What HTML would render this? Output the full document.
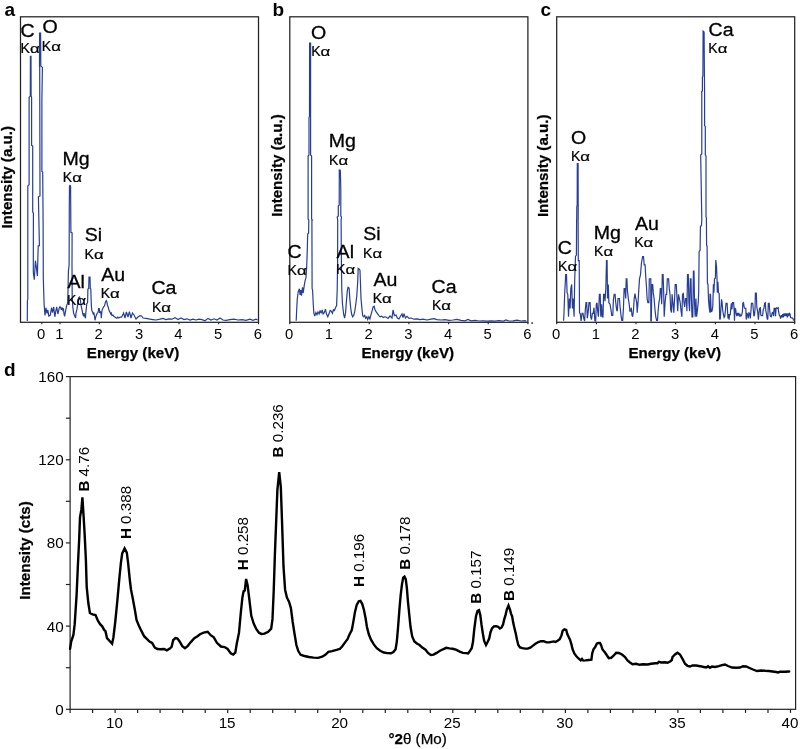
<!DOCTYPE html>
<html><head><meta charset="utf-8"><title>EDS spectra and XRD pattern</title>
<style>
html,body{margin:0;padding:0;background:#fff}
svg{display:block}
text{font-family:"Liberation Sans",sans-serif;fill:#000}
.t{font-size:15.2px}
.t2{font-size:14.8px}
.pl{font-size:19px;font-weight:bold}
.bt{font-size:15.15px;font-weight:bold;stroke:#000;stroke-width:0.25px}
.reg{font-weight:normal}
.el{font-size:19px;stroke:#000;stroke-width:0.3px}
.ka{font-size:13.8px;stroke:#000;stroke-width:0.2px}
.al{font-size:12.4px}
.pk{font-size:15.2px}
.b{font-weight:bold}
</style></head><body>
<svg width="800" height="749" viewBox="0 0 800 749">
<rect width="800" height="749" fill="#fff"/>
<rect x="20.5" y="16.8" width="238.0" height="305.5" fill="none" stroke="#222" stroke-width="1.25"/>
<rect x="289.8" y="16.8" width="238.1" height="305.5" fill="none" stroke="#222" stroke-width="1.25"/>
<rect x="556.7" y="16.8" width="238.0" height="305.5" fill="none" stroke="#222" stroke-width="1.25"/>
<line x1="41.8" y1="322" x2="41.8" y2="324.2" stroke="#222" stroke-width="1.1"/>
<text x="41.2" y="339.4" class="t2" text-anchor="middle">0</text>
<line x1="60.0" y1="322" x2="60.0" y2="324.2" stroke="#222" stroke-width="1.1"/>
<text x="59.4" y="339.4" class="t2" text-anchor="middle">1</text>
<line x1="99.3" y1="322" x2="99.3" y2="324.2" stroke="#222" stroke-width="1.1"/>
<text x="98.7" y="339.4" class="t2" text-anchor="middle">2</text>
<line x1="139.6" y1="322" x2="139.6" y2="324.2" stroke="#222" stroke-width="1.1"/>
<text x="139.0" y="339.4" class="t2" text-anchor="middle">3</text>
<line x1="179.0" y1="322" x2="179.0" y2="324.2" stroke="#222" stroke-width="1.1"/>
<text x="178.4" y="339.4" class="t2" text-anchor="middle">4</text>
<line x1="218.7" y1="322" x2="218.7" y2="324.2" stroke="#222" stroke-width="1.1"/>
<text x="218.1" y="339.4" class="t2" text-anchor="middle">5</text>
<line x1="258.5" y1="322" x2="258.5" y2="324.2" stroke="#222" stroke-width="1.1"/>
<text x="257.9" y="339.4" class="t2" text-anchor="middle">6</text>
<line x1="289.8" y1="322" x2="289.8" y2="324.2" stroke="#222" stroke-width="1.1"/>
<text x="289.2" y="339.4" class="t2" text-anchor="middle">0</text>
<line x1="329.5" y1="322" x2="329.5" y2="324.2" stroke="#222" stroke-width="1.1"/>
<text x="328.9" y="339.4" class="t2" text-anchor="middle">1</text>
<line x1="369.2" y1="322" x2="369.2" y2="324.2" stroke="#222" stroke-width="1.1"/>
<text x="368.6" y="339.4" class="t2" text-anchor="middle">2</text>
<line x1="408.9" y1="322" x2="408.9" y2="324.2" stroke="#222" stroke-width="1.1"/>
<text x="408.3" y="339.4" class="t2" text-anchor="middle">3</text>
<line x1="448.6" y1="322" x2="448.6" y2="324.2" stroke="#222" stroke-width="1.1"/>
<text x="448.0" y="339.4" class="t2" text-anchor="middle">4</text>
<line x1="488.2" y1="322" x2="488.2" y2="324.2" stroke="#222" stroke-width="1.1"/>
<text x="487.6" y="339.4" class="t2" text-anchor="middle">5</text>
<line x1="527.9" y1="322" x2="527.9" y2="324.2" stroke="#222" stroke-width="1.1"/>
<text x="527.3" y="339.4" class="t2" text-anchor="middle">6</text>
<line x1="556.7" y1="322" x2="556.7" y2="324.2" stroke="#222" stroke-width="1.1"/>
<text x="556.1" y="339.4" class="t2" text-anchor="middle">0</text>
<line x1="596.4" y1="322" x2="596.4" y2="324.2" stroke="#222" stroke-width="1.1"/>
<text x="595.8" y="339.4" class="t2" text-anchor="middle">1</text>
<line x1="636.0" y1="322" x2="636.0" y2="324.2" stroke="#222" stroke-width="1.1"/>
<text x="635.4" y="339.4" class="t2" text-anchor="middle">2</text>
<line x1="675.7" y1="322" x2="675.7" y2="324.2" stroke="#222" stroke-width="1.1"/>
<text x="675.1" y="339.4" class="t2" text-anchor="middle">3</text>
<line x1="715.4" y1="322" x2="715.4" y2="324.2" stroke="#222" stroke-width="1.1"/>
<text x="714.8" y="339.4" class="t2" text-anchor="middle">4</text>
<line x1="755.0" y1="322" x2="755.0" y2="324.2" stroke="#222" stroke-width="1.1"/>
<text x="754.4" y="339.4" class="t2" text-anchor="middle">5</text>
<line x1="794.7" y1="322" x2="794.7" y2="324.2" stroke="#222" stroke-width="1.1"/>
<text x="794.1" y="339.4" class="t2" text-anchor="middle">6</text>
<rect x="531.3" y="322.3" width="1.6" height="1.6" fill="#333"/>
<polyline points="27.3,321.0 27.4,301.0 27.8,299.0 27.8,186.0 29.1,184.8 29.1,97.4 30.3,96.0 30.4,56.3 31.0,56.3 31.1,96.0 31.6,97.4 31.6,145.4 32.7,146.0 32.7,212.0 33.4,213.0 33.3,271.9 34.3,279.6 35.4,260.7 36.4,267.7 37.4,276.1 38.2,245.9 39.4,245.7 38.4,196.8 40.0,196.0 39.7,67.4 39.5,66.0 39.6,33.0 40.6,33.0 40.8,66.0 42.4,67.4 41.9,100.0 41.9,171.4 42.7,172.0 43.1,221.4 43.3,278.2 44.1,304.2 45.0,315.4 45.9,307.7 46.9,313.3 47.8,309.8 48.8,316.1 50.2,315.4 51.6,307.7 52.5,312.6 53.7,307.0 54.8,316.8 55.8,311.2 56.7,307.0 57.9,314.0 59.3,307.7 60.0,306.7 60.8,308.3 61.4,309.9 62.0,307.5 62.8,309.9 63.4,308.3 64.0,313.9 64.6,316.3 65.2,313.1 65.8,309.9 66.4,306.7 67.1,304.3 67.6,303.5 68.0,291.4 68.4,271.4 69.1,265.0 69.2,240.0 69.3,205.0 69.5,186.0 70.0,185.4 70.6,186.0 70.8,220.0 70.9,232.3 72.1,232.9 72.0,265.0 72.2,297.1 72.8,306.7 73.6,313.1 74.8,316.3 75.6,317.9 76.0,313.1 76.8,309.9 77.6,305.1 78.6,297.9 79.6,297.1 80.4,300.3 81.0,305.1 82.0,309.9 82.8,313.9 83.6,316.3 84.0,313.1 84.8,316.3 85.5,318.3 85.8,313.1 86.3,308.3 86.8,303.5 87.6,302.7 87.9,289.0 88.7,288.6 89.0,277.0 90.0,277.0 90.3,288.6 90.8,289.0 91.1,298.7 91.4,306.7 91.9,310.7 92.7,312.3 93.3,314.7 93.8,312.3 94.5,316.3 95.0,320.3 95.7,317.1 96.5,314.7 97.3,313.1 98.1,312.3 98.6,308.7 99.3,308.7 99.7,313.1 100.1,311.5 100.9,312.3 101.3,318.3 101.7,313.1 102.1,309.9 102.9,308.3 103.7,306.7 104.5,305.9 105.3,302.7 106.3,300.7 106.9,301.9 107.4,305.1 108.1,306.7 108.7,309.1 109.3,311.1 110.1,312.3 110.6,313.9 111.3,313.1 111.9,315.5 112.9,315.1 113.7,316.3 114.9,317.1 116.1,317.9 116.9,318.3 117.7,317.1 118.9,317.9 120.0,317.1 121.6,317.2 123.6,313.0 125.0,318.0 126.4,312.0 128.0,317.0 129.4,311.6 131.0,318.0 132.4,313.0 134.0,315.0 136.0,319.0 138.0,317.0 140.0,315.6 141.6,316.0 143.0,318.0 146.0,318.4 150.0,319.2 153.0,319.6 156.0,320.0 160.0,319.2 163.0,318.4 166.0,319.6 169.0,318.8 172.0,319.2 175.0,317.6 178.0,319.6 181.0,318.0 184.0,319.6 187.0,318.8 190.0,320.0 193.0,319.2 196.0,320.0 199.0,319.2 202.0,319.6 205.0,320.8 208.0,318.4 211.0,320.0 214.0,318.8 217.0,320.0 220.0,318.0 223.0,320.0 226.0,320.4 230.0,319.6 234.0,319.2 238.0,320.0 242.0,319.6 246.0,320.4 250.0,319.2 253.0,320.4 256.0,319.2 257.6,320.0" fill="none" stroke="#263e98" stroke-width="1.2" stroke-linejoin="miter" stroke-miterlimit="3"/>
<polyline points="296.2,320.7 296.6,311.2 297.3,298.5 298.3,291.5 299.4,288.7 300.1,295.0 300.8,290.1 301.5,295.7 302.5,287.3 303.2,292.9 304.2,285.9 304.9,281.7 306.0,277.5 306.7,266.3 307.2,252.3 307.7,234.0 308.6,233.3 308.8,220.0 308.1,219.0 308.1,156.0 309.0,155.0 309.0,117.5 309.5,116.5 309.6,43.1 310.6,43.1 310.6,116.5 310.6,117.5 310.6,155.0 311.6,156.0 311.6,219.0 312.3,220.0 311.9,220.0 312.1,288.7 312.6,290.1 313.1,301.3 313.8,312.6 314.7,316.1 315.9,312.6 317.0,314.7 318.0,311.9 319.1,314.0 320.1,310.5 321.2,313.3 322.2,309.8 323.1,314.0 324.3,312.6 325.4,309.1 326.5,314.0 327.8,316.8 328.9,314.0 330.2,310.5 331.3,311.2 332.4,313.3 333.4,309.8 334.4,310.5 335.5,307.7 336.6,305.6 337.2,290.1 337.6,262.1 337.7,220.0 337.2,217.0 338.3,216.0 338.3,206.0 339.2,205.0 339.3,170.0 340.3,170.3 340.6,180.0 340.8,190.0 340.8,216.0 341.5,217.0 341.1,220.0 341.4,262.1 341.8,290.1 342.5,304.2 343.6,314.0 344.6,318.2 345.6,312.6 346.4,301.3 347.4,290.1 348.1,287.3 349.1,288.0 349.8,298.5 350.6,307.0 351.6,314.0 352.6,316.8 353.7,315.4 354.8,311.2 355.8,304.2 356.8,295.7 357.7,281.7 358.2,268.4 359.3,269.1 360.0,270.5 360.5,284.5 361.0,298.5 361.9,308.4 362.6,315.4 363.5,316.8 364.7,315.4 365.6,318.2 366.8,316.8 367.7,319.6 368.9,316.8 369.9,318.9 370.8,315.4 372.0,311.2 373.1,307.0 374.2,306.3 375.0,309.8 376.2,311.9 377.3,313.3 378.7,315.4 380.1,316.8 381.8,316.1 383.2,317.5 385.0,316.8 386.0,317.0 388.0,318.4 390.0,316.0 392.0,318.0 393.0,310.0 394.4,315.6 396.0,315.0 397.4,318.0 399.0,319.0 400.6,316.0 402.0,314.0 403.0,317.6 404.0,313.6 405.4,318.0 407.0,316.4 409.0,318.4 411.0,318.0 414.0,319.2 417.0,318.8 420.0,319.6 423.0,319.2 427.0,320.0 431.0,319.2 434.0,318.6 437.0,319.6 441.0,320.0 445.0,319.6 449.0,320.4 453.0,320.0 457.0,319.4 461.0,320.4 465.0,320.8 468.0,319.4 471.0,320.8 475.0,320.4 479.0,321.0 483.0,320.8 487.0,321.2 491.0,320.8 495.0,321.2 499.0,320.6 503.0,321.2 506.0,320.0 509.0,321.0 513.0,320.8 517.0,320.2 521.0,321.0 525.0,320.6 526.4,321.2" fill="none" stroke="#263e98" stroke-width="1.2" stroke-linejoin="miter" stroke-miterlimit="3"/>
<polyline points="563.6,320.7 564.0,312.6 564.7,292.9 565.7,274.7 566.5,274.7 567.1,292.9 567.8,294.3 568.5,316.8 569.4,298.5 570.1,308.4 570.8,288.7 571.7,284.5 572.4,308.4 573.1,298.5 574.1,316.8 574.7,280.3 575.5,256.5 576.4,255.1 576.6,220.0 576.7,219.0 576.8,206.8 577.2,205.0 577.3,163.7 578.1,163.7 578.2,205.0 578.2,206.8 578.2,219.0 578.1,220.0 578.3,260.7 579.2,260.7 579.5,312.6 580.3,314.0 581.1,321.0 582.0,313.3 583.0,313.3 583.7,318.2 584.6,321.0 585.3,309.8 586.0,302.7 586.7,302.7 587.3,318.2 588.1,312.6 589.0,302.7 590.1,302.7 590.7,316.8 591.5,319.6 592.4,313.3 593.2,313.3 594.0,307.7 594.9,321.0 595.7,321.0 596.3,304.2 597.0,302.7 597.7,311.2 598.4,316.8 599.4,294.3 600.2,294.3 600.8,316.8 601.6,304.2 602.3,316.8 603.0,316.8 603.6,294.3 604.4,294.3 605.0,301.3 605.8,288.7 606.5,260.7 607.1,260.7 607.5,298.5 608.3,284.5 608.9,302.7 610.0,304.2 611.0,309.8 611.7,315.4 612.8,315.4 613.4,299.9 614.2,294.3 615.1,294.3 615.6,301.3 616.6,309.8 617.3,311.2 618.0,298.5 619.4,298.5 620.1,307.0 621.0,315.4 621.8,320.3 622.7,320.3 623.5,307.0 624.1,288.7 625.0,288.7 625.7,298.5 626.2,278.9 626.9,278.9 627.4,290.1 628.3,298.5 629.2,304.2 629.9,311.2 630.8,311.2 631.3,307.7 632.0,315.4 632.7,316.8 633.5,309.8 634.2,298.5 635.0,293.6 635.8,298.5 636.7,302.7 637.2,312.6 638.1,301.3 638.6,292.9 639.5,278.9 640.5,274.7 641.4,263.5 642.6,256.5 643.5,256.5 644.2,264.9 645.1,264.9 645.7,276.1 646.5,287.3 647.1,298.5 647.9,302.7 648.9,302.7 649.3,278.9 650.8,278.9 650.8,321.0 651.3,321.0 651.9,284.5 652.7,284.5 653.3,292.9 654.1,298.5 655.0,309.8 655.8,316.8 656.6,320.3 657.5,320.3 658.1,311.2 658.9,302.7 659.7,298.5 660.3,288.7 661.1,288.7 661.7,304.2 662.3,274.7 663.1,274.7 663.7,292.9 664.2,316.8 665.1,302.7 665.9,294.3 666.7,294.3 667.3,278.9 668.6,278.9 669.3,288.7 670.0,294.3 670.7,309.8 671.5,312.6 672.1,294.3 672.9,302.7 673.8,312.6 674.6,298.5 675.2,284.5 676.3,284.5 676.8,294.3 677.7,311.2 678.5,294.3 679.4,298.5 680.2,302.7 681.1,311.2 681.9,316.8 682.5,294.3 683.3,293.6 684.0,302.7 684.7,307.0 685.5,298.5 686.4,298.5 686.9,311.2 687.5,274.7 688.3,274.7 688.9,302.7 689.6,311.2 690.3,278.9 691.0,278.9 691.4,298.5 692.0,316.8 692.8,316.8 693.4,271.2 694.0,271.2 694.5,302.7 695.2,316.8 695.9,298.5 696.6,316.8 697.3,311.2 698.2,302.7 698.7,292.9 699.1,251.6 700.1,250.2 700.4,226.3 701.5,225.6 701.8,220.0 701.8,219.0 700.7,156.0 700.7,155.0 701.8,154.0 701.8,93.0 701.5,92.0 702.4,91.0 702.4,77.4 702.9,76.0 703.1,31.1 704.1,32.0 704.4,76.0 704.6,92.0 704.6,125.5 705.3,126.5 705.3,155.0 706.0,156.0 706.0,216.7 706.5,218.0 706.4,220.0 706.6,245.2 707.1,245.9 707.4,283.1 708.0,284.5 708.5,299.9 709.2,307.7 709.9,312.6 710.0,293.7 710.6,294.9 711.1,311.7 712.0,311.2 712.8,306.1 713.4,284.2 713.9,292.6 714.5,279.1 715.4,278.0 715.8,260.0 716.5,266.7 717.0,278.0 717.3,292.6 717.9,281.9 718.4,292.6 719.2,293.7 719.7,319.6 720.3,318.5 721.0,307.2 721.5,299.4 722.1,302.7 722.6,309.5 723.3,314.0 724.1,317.4 724.8,316.2 725.5,309.5 726.0,303.3 727.1,303.3 727.5,310.6 728.0,318.5 728.6,314.0 729.1,319.6 729.7,314.0 730.2,315.1 730.8,308.4 731.4,303.3 731.9,309.5 732.5,302.7 733.6,302.7 734.1,309.5 734.5,320.7 735.0,308.4 735.6,308.9 736.1,312.9 736.8,316.2 737.4,312.9 738.1,315.7 738.8,312.9 739.5,315.7 740.1,314.6 740.9,316.2 741.7,315.1 742.4,311.7 742.8,303.3 743.5,302.7 744.2,307.2 744.9,308.4 745.8,308.4 746.2,319.6 746.9,312.9 747.7,315.1 748.2,318.5 748.9,312.9 749.6,313.4 750.3,318.5 750.9,311.7 751.4,303.3 752.7,303.3 753.3,309.5 753.9,316.2 754.5,315.1 755.0,309.5 755.4,293.2 756.3,293.2 756.8,307.2 757.2,309.5 757.7,311.7 758.4,319.6 759.0,312.9 759.5,308.4 760.4,307.8 760.8,315.1 761.7,315.7 762.6,315.7 763.3,309.5 764.0,308.4 764.6,303.3 765.3,302.7 765.8,310.6 766.5,314.0 767.1,318.5 767.8,319.6 768.3,303.3 769.2,303.3 769.6,309.5 770.3,316.2 771.3,316.8 772.1,312.9 773.0,312.3 773.6,316.2 774.1,308.4 775.0,308.4 775.5,316.2 776.1,308.4 776.8,307.8 777.5,308.4 778.2,307.8 778.6,311.7 779.3,315.1 780.0,316.2 780.6,318.5 781.4,315.1 782.0,317.4 782.7,314.0 783.3,317.4 784.0,313.4 784.7,316.2 785.4,313.4 786.0,316.2 786.7,313.4 787.4,317.4 788.1,313.4 788.7,316.2 789.4,313.4 790.1,314.0 790.5,317.4 791.2,317.9 792.1,317.9 793.0,318.3 793.5,320.7" fill="none" stroke="#263e98" stroke-width="1.2" stroke-linejoin="miter" stroke-miterlimit="3"/>
<text x="4.5" y="15.5" class="pl">a</text>
<text x="272.6" y="15.5" class="pl">b</text>
<text x="540.5" y="15.5" class="pl">c</text>
<text x="4" y="376.3" class="pl">d</text>
<text transform="translate(12.4,177.3) rotate(-90)" class="bt" text-anchor="middle">Intensity (a.u.)</text>
<text transform="translate(282.3,165.5) rotate(-90)" class="bt" text-anchor="middle">Intensity (a.u.)</text>
<text transform="translate(548.3,165.8) rotate(-90)" class="bt" text-anchor="middle">Intensity (a.u.)</text>
<text x="133.1" y="358.0" class="bt" text-anchor="middle">Energy (keV)</text>
<text x="407.8" y="358.0" class="bt" text-anchor="middle">Energy (keV)</text>
<text x="674.8" y="358.0" class="bt" text-anchor="middle">Energy (keV)</text>
<text transform="translate(20.6,36.5) scale(1.03,1)" class="el">C</text>
<text transform="translate(20.5,52.9) scale(1.02,1)" class="ka">K<tspan class="al" textLength="9.55" lengthAdjust="spacingAndGlyphs">α</tspan></text>
<text transform="translate(42.4,33.2) scale(1.03,1)" class="el">O</text>
<text transform="translate(41.8,50.8) scale(1.02,1)" class="ka">K<tspan class="al" textLength="9.55" lengthAdjust="spacingAndGlyphs">α</tspan></text>
<text transform="translate(62.4,165.2) scale(1.03,1)" class="el">Mg</text>
<text transform="translate(62.8,182.1) scale(1.02,1)" class="ka">K<tspan class="al" textLength="9.55" lengthAdjust="spacingAndGlyphs">α</tspan></text>
<text transform="translate(84.7,241.3) scale(1.03,1)" class="el">Si</text>
<text transform="translate(84.5,258.6) scale(1.02,1)" class="ka">K<tspan class="al" textLength="9.55" lengthAdjust="spacingAndGlyphs">α</tspan></text>
<text transform="translate(67.4,287.7) scale(1.03,1)" class="el">Al</text>
<text transform="translate(67.0,304.6) scale(1.02,1)" class="ka">K<tspan class="al" textLength="9.55" lengthAdjust="spacingAndGlyphs">α</tspan></text>
<text transform="translate(101.3,281.0) scale(1.03,1)" class="el">Au</text>
<text transform="translate(100.7,297.8) scale(1.02,1)" class="ka">K<tspan class="al" textLength="9.55" lengthAdjust="spacingAndGlyphs">α</tspan></text>
<text transform="translate(151.4,294.4) scale(1.03,1)" class="el">Ca</text>
<text transform="translate(151.9,312.0) scale(1.02,1)" class="ka">K<tspan class="al" textLength="9.55" lengthAdjust="spacingAndGlyphs">α</tspan></text>
<text transform="translate(311.0,38.6) scale(1.03,1)" class="el">O</text>
<text transform="translate(311.2,55.8) scale(1.02,1)" class="ka">K<tspan class="al" textLength="9.55" lengthAdjust="spacingAndGlyphs">α</tspan></text>
<text transform="translate(328.8,147.3) scale(1.03,1)" class="el">Mg</text>
<text transform="translate(329.1,164.9) scale(1.02,1)" class="ka">K<tspan class="al" textLength="9.55" lengthAdjust="spacingAndGlyphs">α</tspan></text>
<text transform="translate(287.4,257.8) scale(1.03,1)" class="el">C</text>
<text transform="translate(287.5,274.8) scale(1.02,1)" class="ka">K<tspan class="al" textLength="9.55" lengthAdjust="spacingAndGlyphs">α</tspan></text>
<text transform="translate(336.6,257.6) scale(1.03,1)" class="el">Al</text>
<text transform="translate(336.1,274.4) scale(1.02,1)" class="ka">K<tspan class="al" textLength="9.55" lengthAdjust="spacingAndGlyphs">α</tspan></text>
<text transform="translate(363.3,239.6) scale(1.03,1)" class="el">Si</text>
<text transform="translate(363.1,257.9) scale(1.02,1)" class="ka">K<tspan class="al" textLength="9.55" lengthAdjust="spacingAndGlyphs">α</tspan></text>
<text transform="translate(373.4,285.9) scale(1.03,1)" class="el">Au</text>
<text transform="translate(372.7,303.0) scale(1.02,1)" class="ka">K<tspan class="al" textLength="9.55" lengthAdjust="spacingAndGlyphs">α</tspan></text>
<text transform="translate(431.6,293.0) scale(1.03,1)" class="el">Ca</text>
<text transform="translate(431.9,310.4) scale(1.02,1)" class="ka">K<tspan class="al" textLength="9.55" lengthAdjust="spacingAndGlyphs">α</tspan></text>
<text transform="translate(708.6,35.9) scale(1.03,1)" class="el">Ca</text>
<text transform="translate(708.3,52.6) scale(1.02,1)" class="ka">K<tspan class="al" textLength="9.55" lengthAdjust="spacingAndGlyphs">α</tspan></text>
<text transform="translate(571.0,143.6) scale(1.03,1)" class="el">O</text>
<text transform="translate(570.9,160.6) scale(1.02,1)" class="ka">K<tspan class="al" textLength="9.55" lengthAdjust="spacingAndGlyphs">α</tspan></text>
<text transform="translate(557.7,253.7) scale(1.03,1)" class="el">C</text>
<text transform="translate(558.0,271.2) scale(1.02,1)" class="ka">K<tspan class="al" textLength="9.55" lengthAdjust="spacingAndGlyphs">α</tspan></text>
<text transform="translate(593.8,238.9) scale(1.03,1)" class="el">Mg</text>
<text transform="translate(594.1,256.2) scale(1.02,1)" class="ka">K<tspan class="al" textLength="9.55" lengthAdjust="spacingAndGlyphs">α</tspan></text>
<text transform="translate(634.9,230.3) scale(1.03,1)" class="el">Au</text>
<text transform="translate(634.2,246.9) scale(1.02,1)" class="ka">K<tspan class="al" textLength="9.55" lengthAdjust="spacingAndGlyphs">α</tspan></text>
<rect x="70.1" y="376.6" width="725.5" height="332.7" fill="none" stroke="#222" stroke-width="1.2"/>
<line x1="65.9" y1="709.3" x2="70.1" y2="709.3" stroke="#222" stroke-width="1.2"/>
<text x="63.6" y="714.7" class="t" text-anchor="end">0</text>
<line x1="65.9" y1="667.7" x2="70.1" y2="667.7" stroke="#222" stroke-width="1.2"/>
<line x1="65.9" y1="626.1" x2="70.1" y2="626.1" stroke="#222" stroke-width="1.2"/>
<text x="63.6" y="631.5" class="t" text-anchor="end">40</text>
<line x1="65.9" y1="584.5" x2="70.1" y2="584.5" stroke="#222" stroke-width="1.2"/>
<line x1="65.9" y1="542.9" x2="70.1" y2="542.9" stroke="#222" stroke-width="1.2"/>
<text x="63.6" y="548.3" class="t" text-anchor="end">80</text>
<line x1="65.9" y1="501.3" x2="70.1" y2="501.3" stroke="#222" stroke-width="1.2"/>
<line x1="65.9" y1="459.8" x2="70.1" y2="459.8" stroke="#222" stroke-width="1.2"/>
<text x="63.6" y="465.2" class="t" text-anchor="end">120</text>
<line x1="65.9" y1="418.2" x2="70.1" y2="418.2" stroke="#222" stroke-width="1.2"/>
<line x1="65.9" y1="376.6" x2="70.1" y2="376.6" stroke="#222" stroke-width="1.2"/>
<text x="63.6" y="382.0" class="t" text-anchor="end">160</text>
<line x1="70.1" y1="709.3" x2="70.1" y2="712.9" stroke="#222" stroke-width="1.2"/>
<line x1="92.6" y1="709.3" x2="92.6" y2="712.9" stroke="#222" stroke-width="1.2"/>
<line x1="115.1" y1="709.3" x2="115.1" y2="712.9" stroke="#222" stroke-width="1.2"/>
<text x="114.5" y="727.5" class="t" text-anchor="middle">10</text>
<line x1="137.6" y1="709.3" x2="137.6" y2="712.9" stroke="#222" stroke-width="1.2"/>
<line x1="160.1" y1="709.3" x2="160.1" y2="712.9" stroke="#222" stroke-width="1.2"/>
<line x1="182.7" y1="709.3" x2="182.7" y2="712.9" stroke="#222" stroke-width="1.2"/>
<line x1="205.2" y1="709.3" x2="205.2" y2="712.9" stroke="#222" stroke-width="1.2"/>
<line x1="227.7" y1="709.3" x2="227.7" y2="712.9" stroke="#222" stroke-width="1.2"/>
<text x="227.1" y="727.5" class="t" text-anchor="middle">15</text>
<line x1="250.2" y1="709.3" x2="250.2" y2="712.9" stroke="#222" stroke-width="1.2"/>
<line x1="272.7" y1="709.3" x2="272.7" y2="712.9" stroke="#222" stroke-width="1.2"/>
<line x1="295.2" y1="709.3" x2="295.2" y2="712.9" stroke="#222" stroke-width="1.2"/>
<line x1="317.7" y1="709.3" x2="317.7" y2="712.9" stroke="#222" stroke-width="1.2"/>
<line x1="340.2" y1="709.3" x2="340.2" y2="712.9" stroke="#222" stroke-width="1.2"/>
<text x="339.6" y="727.5" class="t" text-anchor="middle">20</text>
<line x1="362.8" y1="709.3" x2="362.8" y2="712.9" stroke="#222" stroke-width="1.2"/>
<line x1="385.3" y1="709.3" x2="385.3" y2="712.9" stroke="#222" stroke-width="1.2"/>
<line x1="407.8" y1="709.3" x2="407.8" y2="712.9" stroke="#222" stroke-width="1.2"/>
<line x1="430.3" y1="709.3" x2="430.3" y2="712.9" stroke="#222" stroke-width="1.2"/>
<line x1="452.8" y1="709.3" x2="452.8" y2="712.9" stroke="#222" stroke-width="1.2"/>
<text x="452.2" y="727.5" class="t" text-anchor="middle">25</text>
<line x1="475.3" y1="709.3" x2="475.3" y2="712.9" stroke="#222" stroke-width="1.2"/>
<line x1="497.8" y1="709.3" x2="497.8" y2="712.9" stroke="#222" stroke-width="1.2"/>
<line x1="520.3" y1="709.3" x2="520.3" y2="712.9" stroke="#222" stroke-width="1.2"/>
<line x1="542.9" y1="709.3" x2="542.9" y2="712.9" stroke="#222" stroke-width="1.2"/>
<line x1="565.4" y1="709.3" x2="565.4" y2="712.9" stroke="#222" stroke-width="1.2"/>
<text x="564.8" y="727.5" class="t" text-anchor="middle">30</text>
<line x1="587.9" y1="709.3" x2="587.9" y2="712.9" stroke="#222" stroke-width="1.2"/>
<line x1="610.4" y1="709.3" x2="610.4" y2="712.9" stroke="#222" stroke-width="1.2"/>
<line x1="632.9" y1="709.3" x2="632.9" y2="712.9" stroke="#222" stroke-width="1.2"/>
<line x1="655.4" y1="709.3" x2="655.4" y2="712.9" stroke="#222" stroke-width="1.2"/>
<line x1="677.9" y1="709.3" x2="677.9" y2="712.9" stroke="#222" stroke-width="1.2"/>
<text x="677.3" y="727.5" class="t" text-anchor="middle">35</text>
<line x1="700.4" y1="709.3" x2="700.4" y2="712.9" stroke="#222" stroke-width="1.2"/>
<line x1="722.9" y1="709.3" x2="722.9" y2="712.9" stroke="#222" stroke-width="1.2"/>
<line x1="745.5" y1="709.3" x2="745.5" y2="712.9" stroke="#222" stroke-width="1.2"/>
<line x1="768.0" y1="709.3" x2="768.0" y2="712.9" stroke="#222" stroke-width="1.2"/>
<line x1="790.5" y1="709.3" x2="790.5" y2="712.9" stroke="#222" stroke-width="1.2"/>
<text x="789.9" y="727.5" class="t" text-anchor="middle">40</text>
<polyline points="70.1,648.8 71.2,641.5 73.4,634.9 74.7,624.2 76.6,594.8 77.9,565.4 79.2,538.7 80.0,517.4 81.4,509.4 82.4,497.4 83.5,514.7 84.6,533.4 85.9,560.1 86.7,586.8 88.3,602.8 89.9,613.0 92.6,614.3 95.5,615.1 97.9,620.7 100.1,624.2 102.2,626.3 104.3,630.1 105.4,630.9 107.0,638.1 109.4,640.7 112.1,643.7 113.4,637.5 115.3,621.5 117.4,600.2 119.3,578.8 120.9,562.8 122.2,553.4 124.6,548.4 126.8,552.6 128.1,562.8 130.0,581.5 131.0,589.5 132.6,597.5 134.8,609.5 136.6,620.2 138.8,625.5 141.4,630.9 144.1,636.2 146.8,638.9 149.5,641.5 152.1,642.9 154.8,647.7 157.5,649.0 160.1,649.3 164.1,649.0 166.8,650.4 169.5,648.8 171.6,646.9 173.2,640.2 175.4,638.1 177.5,638.6 179.6,641.5 182.3,646.1 185.0,648.2 187.6,646.1 190.8,642.1 194.3,638.1 197.5,636.2 200.0,634.2 203.7,632.7 207.7,631.8 210.7,635.2 213.8,637.3 216.9,642.8 220.9,646.5 224.6,647.1 227.6,649.0 230.7,653.3 233.2,654.5 235.3,652.7 236.8,643.5 239.0,632.7 240.8,612.8 242.4,597.4 243.6,591.3 244.8,590.6 246.1,579.0 247.6,585.1 249.1,597.4 251.3,615.8 253.7,623.5 256.2,629.0 259.0,632.7 261.4,633.9 264.5,633.6 268.2,631.8 271.2,628.7 272.5,618.9 273.7,591.3 274.9,554.4 276.2,520.6 277.4,489.9 279.2,472.1 280.8,486.8 282.0,520.6 283.5,566.7 285.1,589.7 286.9,597.4 289.1,602.0 290.9,608.1 292.7,622.0 294.6,634.2 296.4,645.0 298.3,651.1 300.7,654.8 304.4,656.0 309.0,657.0 313.6,657.6 318.2,657.9 322.2,656.7 325.3,654.8 328.4,651.8 332.0,651.1 336.6,649.9 340.6,648.7 340.0,648.8 342.1,646.5 344.7,642.9 347.5,639.2 349.6,634.3 351.8,630.0 353.2,622.6 355.0,611.9 356.7,605.0 358.8,601.2 360.5,600.8 362.2,603.8 363.9,609.7 365.6,618.3 366.9,626.8 368.8,634.3 371.0,639.7 373.8,644.4 376.8,648.2 380.2,650.8 383.8,652.5 387.4,653.1 390.9,653.3 393.4,652.1 395.6,649.3 396.8,641.8 398.1,626.8 399.4,609.7 400.7,594.8 402.0,584.1 403.2,577.7 404.5,576.6 405.8,579.4 406.9,588.4 407.9,601.2 409.2,614.0 410.5,626.8 412.2,636.5 414.4,641.4 416.9,643.5 419.5,645.0 422.3,647.6 425.5,649.7 428.0,652.9 430.8,655.0 433.6,654.6 436.6,652.9 440.0,650.8 443.0,649.3 446.2,647.8 449.4,648.4 452.8,648.8 456.5,649.9 459.7,651.6 462.9,652.9 466.1,653.1 468.2,653.5 470.0,650.8 471.7,648.2 473.0,641.8 474.3,629.0 476.0,616.2 477.5,610.8 479.0,610.2 480.3,615.1 481.5,624.7 482.8,633.2 484.1,640.7 486.0,645.0 487.5,642.2 489.2,638.6 490.5,632.2 492.0,628.3 493.9,626.4 496.1,626.2 498.2,626.8 499.9,628.5 501.6,627.5 503.1,624.3 504.2,619.4 505.5,615.1 506.8,609.7 508.5,605.5 510.0,609.7 511.0,613.6 512.1,616.2 513.2,622.6 514.4,627.9 515.7,633.2 517.0,639.7 518.3,645.0 520.0,647.4 522.4,648.2 525.1,648.6 527.7,648.6 530.3,647.6 533.0,645.6 535.8,643.5 538.4,642.0 540.9,641.2 543.7,641.2 546.5,642.4 549.1,642.4 551.6,641.8 553.8,641.4 555.5,642.0 557.6,640.7 559.7,639.2 561.5,635.4 562.7,630.7 564.4,629.4 566.2,630.0 567.4,634.3 568.7,637.1 570.0,639.7 571.3,643.9 572.6,649.3 574.3,653.5 576.4,656.3 578.5,658.5 580.7,660.4 582.0,658.9 583.2,660.6 585.4,660.4 588.6,660.0 591.4,659.7 592.2,653.5 593.5,649.3 595.2,647.1 596.9,643.5 598.6,642.9 600.0,643.0 601.2,645.5 602.5,649.5 605.0,652.5 608.8,658.2 611.2,657.8 613.8,655.5 616.2,652.8 618.8,653.0 622.0,654.5 625.0,657.0 627.5,660.5 630.0,662.5 632.5,664.2 636.2,663.8 639.5,664.8 643.0,664.2 647.5,664.5 651.2,663.8 655.0,663.2 657.5,663.2 659.0,661.8 661.2,662.5 664.5,662.2 667.5,662.8 670.5,661.2 671.8,660.0 672.5,657.0 675.0,654.5 677.5,652.8 680.0,654.5 682.5,658.8 685.0,663.8 687.5,665.8 690.0,666.5 692.5,665.5 696.2,665.5 700.0,666.2 703.8,667.0 706.2,667.5 708.0,666.2 710.0,667.8 712.0,666.5 715.0,667.0 718.8,666.2 722.0,665.2 725.0,664.5 728.0,666.0 732.0,667.5 736.2,667.8 740.0,667.5 743.0,666.2 746.2,666.5 749.5,668.0 753.0,669.5 757.0,671.0 761.2,670.5 765.0,670.8 768.8,671.0 772.5,671.5 776.2,672.0 778.0,672.5 780.0,671.8 785.0,671.8 789.2,671.5" fill="none" stroke="#000" stroke-width="2.4" stroke-linejoin="miter" stroke-miterlimit="5" stroke-linecap="round"/>
<text transform="translate(29.6,550.5) rotate(-90)" class="bt" text-anchor="middle">Intensity (cts)</text>
<text x="388.5" y="743.8" class="bt">°2<tspan class="reg">θ (Mo)</tspan></text>
<text transform="translate(89.4,491.6) rotate(-90)" class="pk"><tspan class="b">B</tspan> 4.76</text>
<text transform="translate(131.1,539.1) rotate(-90)" class="pk"><tspan class="b">H</tspan> 0.388</text>
<text transform="translate(248.0,570.2) rotate(-90)" class="pk"><tspan class="b">H</tspan> 0.258</text>
<text transform="translate(282.6,457.4) rotate(-90)" class="pk"><tspan class="b">B</tspan> 0.236</text>
<text transform="translate(364.0,587.0) rotate(-90)" class="pk"><tspan class="b">H</tspan> 0.196</text>
<text transform="translate(410.0,569.8) rotate(-90)" class="pk"><tspan class="b">B</tspan> 0.178</text>
<text transform="translate(481.2,603.8) rotate(-90)" class="pk"><tspan class="b">B</tspan> 0.157</text>
<text transform="translate(514.4,601.0) rotate(-90)" class="pk"><tspan class="b">B</tspan> 0.149</text>
</svg>
</body></html>
